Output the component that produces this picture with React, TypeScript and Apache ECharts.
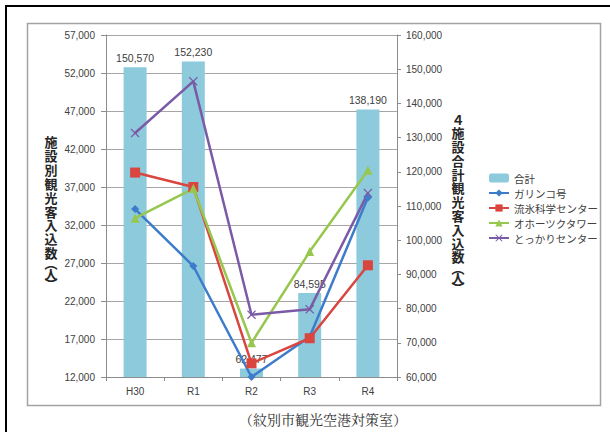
import React, { useEffect, useRef } from "react";
import * as echarts from "echarts";

// Fiscal years
const categories = ["H30", "R1", "R2", "R3", "R4"];

// Total of the four facilities (right axis)
const totalVisitors = [150570, 152230, 62477, 84595, 138190];

// Visitors per facility (left axis)
const garinkoGo = [34100, 26600, 12000, 17300, 35600];
const ryuhyoCenter = [38900, 37000, 13800, 17100, 26700];
const okhotskTower = [32900, 36800, 16500, 28500, 39200];
const tokkariCenter = [44100, 50900, 20200, 20900, 36200];

const seriesNames = ["合計", "ガリンコ号", "流氷科学センター", "オホーツクタワー", "とっかりセンター"];

// Axis ranges: [min, max, interval]
const leftAxisRange = [12000, 57000, 5000];
const rightAxisRange = [60000, 160000, 10000];

const leftTitle = ["施", "設", "別", "観", "光", "客", "入", "込", "数", "︵", "人", "︶"];
const rightTitle = ["４", "施", "設", "合", "計", "観", "光", "客", "入", "込", "数", "︵", "人", "︶"];
const caption = "（紋別市観光空港対策室）";

const LATIN = '"Liberation Sans", "Noto Sans CJK JP", sans-serif';
const CJK = '"Noto Sans CJK JP", sans-serif';

const crossPath =
  "path://M0,1L1,0L5,4L9,0L10,1L6,5L10,9L9,10L5,6L1,10L0,9L4,5Z";

const isParen = (c?: string) => c === "︵" || c === "︶";

// Stacked vertical axis title drawn as one rich text block
function verticalTitle(chars: string[], cx: number, firstCenterY: number, step: number) {
  const text = chars.map((ch) => (isParen(ch) ? `{p|${ch}}` : `{c|${ch}}`)).join("\n");
  return {
    type: "text",
    x: cx,
    y: firstCenterY - step / 2,
    style: {
      text,
      fill: "#262626",
      font: `bold 13px ${CJK}`,
      align: "center",
      verticalAlign: "top",
      rich: {
        c: { font: `bold 13px ${CJK}`, fill: "#262626", lineHeight: step, align: "center" },
        p: { font: `bold 13px ${CJK}`, fill: "#262626", lineHeight: 6.5, align: "center" },
      },
    },
  };
}

const fmt = (v: number) => v.toLocaleString("en-US");

export default function App() {
  const ref = useRef<HTMLDivElement>(null);

  useEffect(() => {
    if (!ref.current) return;
    const chart = echarts.init(ref.current, null, { renderer: "svg" });

    const lineSeries = (name: string, data: number[], color: string, symbol: string, size: number) => ({
      name,
      type: "line",
      yAxisIndex: 0,
      data,
      symbol,
      symbolSize: size,
      lineStyle: { color, width: 2.5 },
      itemStyle: { color },
      z: 3,
    });

    chart.setOption({
      animation: false,
      backgroundColor: "#ffffff",
      grid: { left: 106, right: 213, top: 35, bottom: 55 },
      legend: {
        orient: "vertical",
        left: 483,
        top: 167,
        itemWidth: 20,
        itemHeight: 9,
        itemGap: 3,
        textStyle: { fontSize: 10.5, lineHeight: 12, color: "#404040", fontFamily: CJK },
        data: seriesNames,
      },
      xAxis: {
        type: "category",
        data: categories,
        axisLine: { lineStyle: { color: "#8c8c8c", width: 1 } },
        axisTick: { show: true, length: 4, lineStyle: { color: "#8c8c8c" } },
        axisLabel: { color: "#404040", fontSize: 10, fontFamily: LATIN, margin: 9 },
      },
      yAxis: [
        {
          type: "value",
          position: "left",
          min: leftAxisRange[0],
          max: leftAxisRange[1],
          interval: leftAxisRange[2],
          axisLine: { show: true, lineStyle: { color: "#8c8c8c" } },
          axisTick: { show: true, length: 5, lineStyle: { color: "#8c8c8c" } },
          axisLabel: { color: "#404040", fontSize: 10, fontFamily: LATIN, margin: 11, formatter: fmt },
          splitLine: { lineStyle: { color: "#a6a6a6", width: 1 } },
        },
        {
          type: "value",
          position: "right",
          min: rightAxisRange[0],
          max: rightAxisRange[1],
          interval: rightAxisRange[2],
          axisLine: { show: true, lineStyle: { color: "#8c8c8c" } },
          axisTick: { show: true, length: 4, lineStyle: { color: "#8c8c8c" } },
          axisLabel: { color: "#404040", fontSize: 10, fontFamily: LATIN, margin: 9, formatter: fmt },
          splitLine: { show: false },
        },
      ],
      series: [
        {
          name: seriesNames[0],
          type: "bar",
          yAxisIndex: 1,
          data: totalVisitors,
          barWidth: 23,
          itemStyle: { color: "#8ccadc" },
          label: {
            show: true,
            position: "top",
            distance: 4,
            color: "#404040",
            fontSize: 10.5,
            fontFamily: LATIN,
            formatter: (p: any) => fmt(p.value),
          },
          z: 2,
        },
        lineSeries(seriesNames[1], garinkoGo, "#3c7ccb", "diamond", 8),
        lineSeries(seriesNames[2], ryuhyoCenter, "#d9453f", "rect", 10),
        lineSeries(seriesNames[3], okhotskTower, "#97c74e", "triangle", 9),
        lineSeries(seriesNames[4], tokkariCenter, "#7b5aa6", crossPath, 9),
      ],
      graphic: [
        // outer frame
        { type: "rect", shape: { x: 5, y: 5, width: 605, height: 2 }, style: { fill: "#000" } },
        { type: "rect", shape: { x: 5, y: 5, width: 2, height: 427 }, style: { fill: "#000" } },
        // chart border
        {
          type: "rect",
          shape: { x: 27.5, y: 23.5, width: 573, height: 382 },
          style: { fill: "none", stroke: "#a3a3a3", lineWidth: 1.5 },
        },
        verticalTitle(leftTitle, 51, 141.6, 13.9),
        verticalTitle(rightTitle, 458, 119, 13.8),
        {
          type: "text",
          x: 323,
          y: 419,
          style: {
            text: caption,
            fill: "#333333",
            font: `14px "Noto Serif CJK JP", ${CJK}`,
            align: "center",
            verticalAlign: "middle",
          },
        },
      ],
    });

    return () => chart.dispose();
  }, []);

  return (
    <div
      ref={ref}
      style={{ position: "fixed", left: 0, top: 0, width: 610, height: 432, background: "#fff" }}
    />
  );
}
